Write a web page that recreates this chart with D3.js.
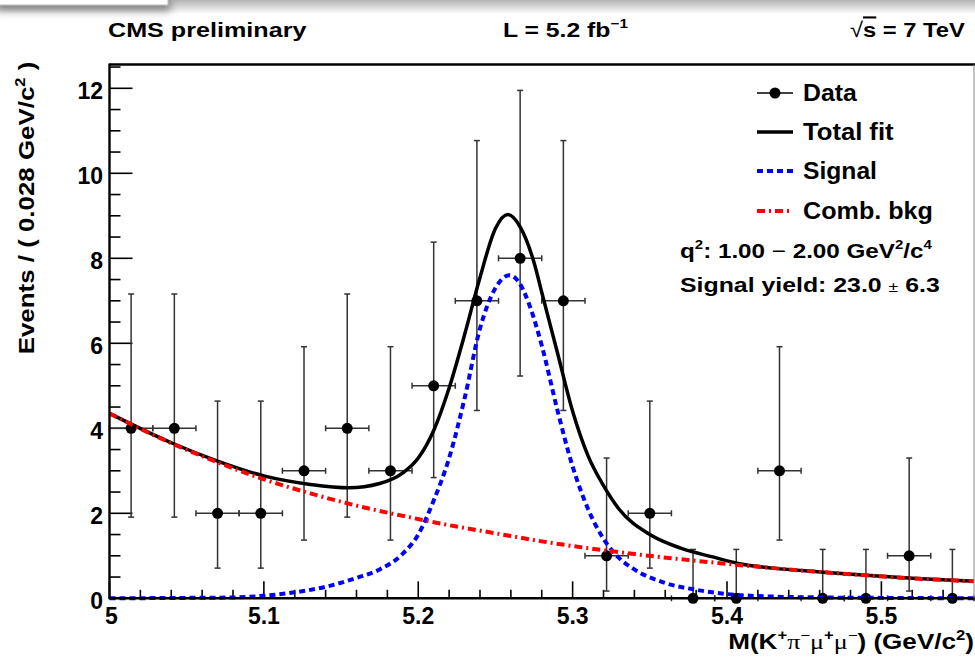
<!DOCTYPE html>
<html>
<head>
<meta charset="utf-8">
<script src="https://cdn.jsdelivr.net/npm/d3@7"></script>
<style>
  html, body { margin: 0; padding: 0; background: #fff; }
  svg text { font-family: "Liberation Sans", Arial, Helvetica, sans-serif; font-weight: bold; fill: #000; }
</style>
</head>
<body>
<svg id="chart" width="975" height="658"></svg>
<script>
// ---- data ----
var binCenters = [5.014, 5.042, 5.070, 5.098, 5.126, 5.154, 5.182, 5.210, 5.238, 5.266,
                  5.294, 5.322, 5.350, 5.378, 5.406, 5.434, 5.462, 5.490, 5.518, 5.546];
var counts   = [4, 4, 2, 2, 3, 4, 3, 5, 7, 8, 7, 1, 2, 0, 0, 3, 0, 0, 1, 0];
var errHigh  = [3.16, 3.16, 2.64, 2.64, 2.92, 3.16, 2.92, 3.38, 3.77, 3.95,
                3.77, 2.30, 2.64, 1.15, 1.15, 2.92, 1.15, 1.15, 2.30, 1.15];
var errLow   = [2.09, 2.09, 1.29, 1.29, 1.63, 2.09, 1.63, 2.16, 2.58, 2.77,
                2.58, 0.83, 1.29, 0, 0, 1.63, 0, 0, 0.83, 0];
var binHalf = 0.014;

// fitted curves, sampled from the figure as [mass, events]
var totalFit = [[5.00, 4.35], [5.04, 3.66], [5.07, 3.23], [5.10, 2.88], [5.13, 2.68], [5.155, 2.60],
                [5.175, 2.70], [5.19, 2.95], [5.20, 3.30], [5.21, 3.95], [5.22, 4.95], [5.23, 6.20],
                [5.24, 7.55], [5.25, 8.70], [5.258, 9.03], [5.266, 8.74], [5.275, 7.90], [5.28, 7.20],
                [5.29, 5.80], [5.30, 4.40], [5.31, 3.35], [5.32, 2.65], [5.33, 2.10], [5.35, 1.50],
                [5.37, 1.18], [5.39, 0.98], [5.41, 0.80], [5.43, 0.71], [5.46, 0.62], [5.49, 0.54],
                [5.52, 0.47], [5.56, 0.40]];
var signalFit = [[5.00, 0.0], [5.05, 0.01], [5.08, 0.02], [5.10, 0.06], [5.12, 0.14], [5.14, 0.27],
                 [5.16, 0.48], [5.175, 0.68], [5.19, 1.05], [5.20, 1.50], [5.21, 2.30], [5.22, 3.30],
                 [5.23, 4.70], [5.24, 6.35], [5.25, 7.30], [5.259, 7.60], [5.265, 7.45], [5.272, 6.90],
                 [5.28, 5.95], [5.29, 4.45], [5.30, 3.10], [5.31, 2.10], [5.32, 1.40], [5.33, 0.95],
                 [5.34, 0.68], [5.36, 0.36], [5.38, 0.20], [5.40, 0.10], [5.43, 0.04], [5.46, 0.02],
                 [5.50, 0.01], [5.56, 0.0]];
var bkgFit = [[5.00, 4.35], [5.04, 3.65], [5.07, 3.20], [5.10, 2.80], [5.13, 2.47], [5.16, 2.18],
              [5.19, 1.94], [5.22, 1.72], [5.25, 1.53], [5.28, 1.34], [5.31, 1.18], [5.34, 1.04],
              [5.37, 0.92], [5.40, 0.81], [5.43, 0.71], [5.46, 0.62], [5.49, 0.54], [5.52, 0.47],
              [5.56, 0.40]];

var xTicks = [5.0, 5.1, 5.2, 5.3, 5.4, 5.5];
var xTickLabels = ["5", "5.1", "5.2", "5.3", "5.4", "5.5"];
var yTicks = [0, 2, 4, 6, 8, 10, 12];
var legendLabels = ["Data", "Total fit", "Signal", "Comb. bkg"];

// ---- layout ----
var svg = d3.select("#chart");
var x = d3.scaleLinear().domain([5.0, 5.56]).range([109.5, 974]);
var y = d3.scaleLinear().domain([0, 12.56]).range([598.3, 64.5]);

var defs = svg.append("defs");
var grad = defs.append("linearGradient").attr("id", "topfade")
    .attr("x1", 0).attr("y1", 0).attr("x2", 0).attr("y2", 1);
grad.append("stop").attr("offset", "0%").attr("stop-color", "#b4b4b4");
grad.append("stop").attr("offset", "100%").attr("stop-color", "#ffffff");
var shadow = defs.append("filter").attr("id", "shadow")
    .attr("x", "-20%").attr("y", "-50%").attr("width", "140%").attr("height", "400%");
shadow.append("feDropShadow").attr("dx", 2).attr("dy", 5).attr("stdDeviation", 4)
    .attr("flood-color", "#666").attr("flood-opacity", 0.8);

// window edge artefact at the top of the screenshot
svg.append("rect").attr("x", 0).attr("y", 0).attr("width", 975).attr("height", 14).attr("fill", "url(#topfade)");
svg.append("rect").attr("x", -5).attr("y", -5).attr("width", 173).attr("height", 10)
    .attr("fill", "#fff").attr("stroke", "#bbb").attr("filter", "url(#shadow)");

// text helper: parts = [{t, sup, serif, light, size}], stretched to a target width
function addText(parent, px, py, anchor, size, parts, target, rot) {
    var g = parent.append("g");
    var t = g.append("text").attr("text-anchor", anchor).style("font-size", size + "px");
    var shift = 0;
    parts.forEach(function (p) {
        var s = t.append("tspan").text(p.t);
        var want = p.sup ? -0.42 * size : 0;
        s.attr("dy", want - shift);
        shift = want;
        if (p.sup) s.style("font-size", Math.round(size * 0.62) + "px");
        if (p.size) s.style("font-size", p.size + "px");
        if (p.serif) s.style("font-family", "'Liberation Serif', 'DejaVu Serif', serif").style("font-weight", "normal");
        if (p.light) s.style("font-weight", "normal");
        if (p.over) s.style("text-decoration", "overline");
    });
    var w = t.node().getBBox().width;
    var sx = target ? target / w : 1;
    g.attr("transform", "translate(" + px + "," + py + ")" + (rot ? " rotate(" + rot + ")" : "") + " scale(" + sx + ",1)");
    return g;
}

// header
addText(svg, 108, 37, "start", 21, [{t: "CMS preliminary"}], 199);
addText(svg, 503, 37, "start", 21, [{t: "L = 5.2 fb"}, {t: "\u22121", sup: true}], 125);
addText(svg, 850, 37, "start", 21, [{t: "\u221A", light: true}, {t: "s", over: true}, {t: " = 7 TeV"}], 115);

// axes ticks
var ax = svg.append("g");
d3.range(0, 12.6, 0.5).forEach(function (v) {
    var major = Math.abs(v - Math.round(v / 2) * 2) < 1e-6;
    ax.append("line").attr("x1", x(5.0)).attr("x2", x(5.0) + (major ? 23 : 11))
        .attr("y1", y(v)).attr("y2", y(v)).attr("stroke", "#000").attr("stroke-width", 1.6);
});
d3.range(0, 28).forEach(function (i) {
    var v = 5.0 + i * 0.02;
    var major = i % 5 === 0;
    ax.append("line").attr("x1", x(v)).attr("x2", x(v))
        .attr("y1", y(0)).attr("y2", y(0) - (major ? 17 : 8.5)).attr("stroke", "#000").attr("stroke-width", 1.6);
});
yTicks.forEach(function (v) {
    addText(ax, 103, y(v) + 11, "end", 23, [{t: String(v)}], null);
});
xTicks.forEach(function (v, i) {
    addText(ax, x(v) + (i === 0 ? 2 : 0), 623.5, "middle", 23, [{t: xTickLabels[i]}], null);
});

// axis titles
addText(svg, 34, 208, "middle", 22, [{t: "Events / ( 0.028 GeV/c"}, {t: "2", sup: true}, {t: " )"}], 293, -90);
addText(svg, 974, 649, "end", 22, [
    {t: "M(K"}, {t: "+", sup: true}, {t: "\u03C0", serif: true}, {t: "\u2212", sup: true, light: true},
    {t: "\u03BC", serif: true}, {t: "+", sup: true}, {t: "\u03BC", serif: true}, {t: "\u2212", sup: true, light: true},
    {t: ") (GeV/c"}, {t: "2", sup: true}, {t: ")"}], 246);

// data points with Poisson errors
var pts = svg.append("g").attr("stroke", "#333").attr("stroke-width", 1.5);
binCenters.forEach(function (m, i) {
    var cx = x(m), cy = y(counts[i]);
    var top = y(counts[i] + errHigh[i]), bot = y(counts[i] - errLow[i]);
    var l = x(m - binHalf), r = x(m + binHalf);
    pts.append("line").attr("x1", cx).attr("x2", cx).attr("y1", top).attr("y2", bot);
    pts.append("line").attr("x1", cx - 3).attr("x2", cx + 3).attr("y1", top).attr("y2", top);
    if (errLow[i] > 0) pts.append("line").attr("x1", cx - 3).attr("x2", cx + 3).attr("y1", bot).attr("y2", bot);
    pts.append("line").attr("x1", l).attr("x2", r).attr("y1", cy).attr("y2", cy);
    pts.append("line").attr("x1", l).attr("x2", l).attr("y1", cy - 3).attr("y2", cy + 3);
    pts.append("line").attr("x1", r).attr("x2", r).attr("y1", cy - 3).attr("y2", cy + 3);
});
svg.append("g").selectAll("circle").data(binCenters).enter().append("circle")
    .attr("cx", function (d) { return x(d); })
    .attr("cy", function (d, i) { return y(counts[i]); })
    .attr("r", 5.5).attr("fill", "#000");

// fit curves
var line = d3.line().x(function (d) { return x(d[0]); }).y(function (d) { return y(d[1]); })
    .curve(d3.curveMonotoneX);
svg.append("path").datum(totalFit).attr("d", line).attr("fill", "none")
    .attr("stroke", "#000").attr("stroke-width", 3.5);
svg.append("path").datum(signalFit).attr("d", line).attr("fill", "none")
    .attr("stroke", "#0000ff").attr("stroke-width", 4).attr("stroke-dasharray", "6,4");
svg.append("path").datum(bkgFit).attr("d", line).attr("fill", "none")
    .attr("stroke", "#ff0000").attr("stroke-width", 4).attr("stroke-dasharray", "8,4,2,4");

// frame
svg.append("line").attr("x1", x(5.0)).attr("x2", 975).attr("y1", y(12.56)).attr("y2", y(12.56))
    .attr("stroke", "#000").attr("stroke-width", 2.4);
svg.append("line").attr("x1", x(5.0)).attr("x2", x(5.0)).attr("y1", y(12.56) - 1).attr("y2", y(0) + 1)
    .attr("stroke", "#000").attr("stroke-width", 2.4);
svg.append("line").attr("x1", x(5.0)).attr("x2", 975).attr("y1", y(0)).attr("y2", y(0))
    .attr("stroke", "#000").attr("stroke-width", 2.6);
svg.append("line").attr("x1", 974).attr("x2", 974).attr("y1", y(12.56)).attr("y2", y(0))
    .attr("stroke", "#888").attr("stroke-width", 1);

// legend
var leg = svg.append("g");
var rows = [93, 132, 171, 211];
var legTargets = [54, 91, 74, 130];
leg.append("line").attr("x1", 757).attr("x2", 793).attr("y1", rows[0]).attr("y2", rows[0])
    .attr("stroke", "#000").attr("stroke-width", 1.5);
leg.append("circle").attr("cx", 775).attr("cy", rows[0]).attr("r", 5.5).attr("fill", "#000");
leg.append("line").attr("x1", 757).attr("x2", 793).attr("y1", rows[1]).attr("y2", rows[1])
    .attr("stroke", "#000").attr("stroke-width", 3.5);
leg.append("line").attr("x1", 757).attr("x2", 793).attr("y1", rows[2]).attr("y2", rows[2])
    .attr("stroke", "#0000ff").attr("stroke-width", 4).attr("stroke-dasharray", "6,4");
leg.append("line").attr("x1", 757).attr("x2", 793).attr("y1", rows[3]).attr("y2", rows[3])
    .attr("stroke", "#ff0000").attr("stroke-width", 4).attr("stroke-dasharray", "8,4,2,4");
legendLabels.forEach(function (s, i) {
    addText(leg, 803, rows[i] + 8, "start", 23, [{t: s}], legTargets[i]);
});

addText(svg, 680, 258, "start", 21, [
    {t: "q"}, {t: "2", sup: true}, {t: ": 1.00  "}, {t: "\u2212", light: true}, {t: " 2.00 GeV"},
    {t: "2", sup: true}, {t: "/c"}, {t: "4", sup: true}], 253);
addText(svg, 680, 292, "start", 21, [
    {t: "Signal yield: 23.0  "}, {t: "\u00B1", light: true, size: 15}, {t: " 6.3"}], 260);
</script>
</body>
</html>
